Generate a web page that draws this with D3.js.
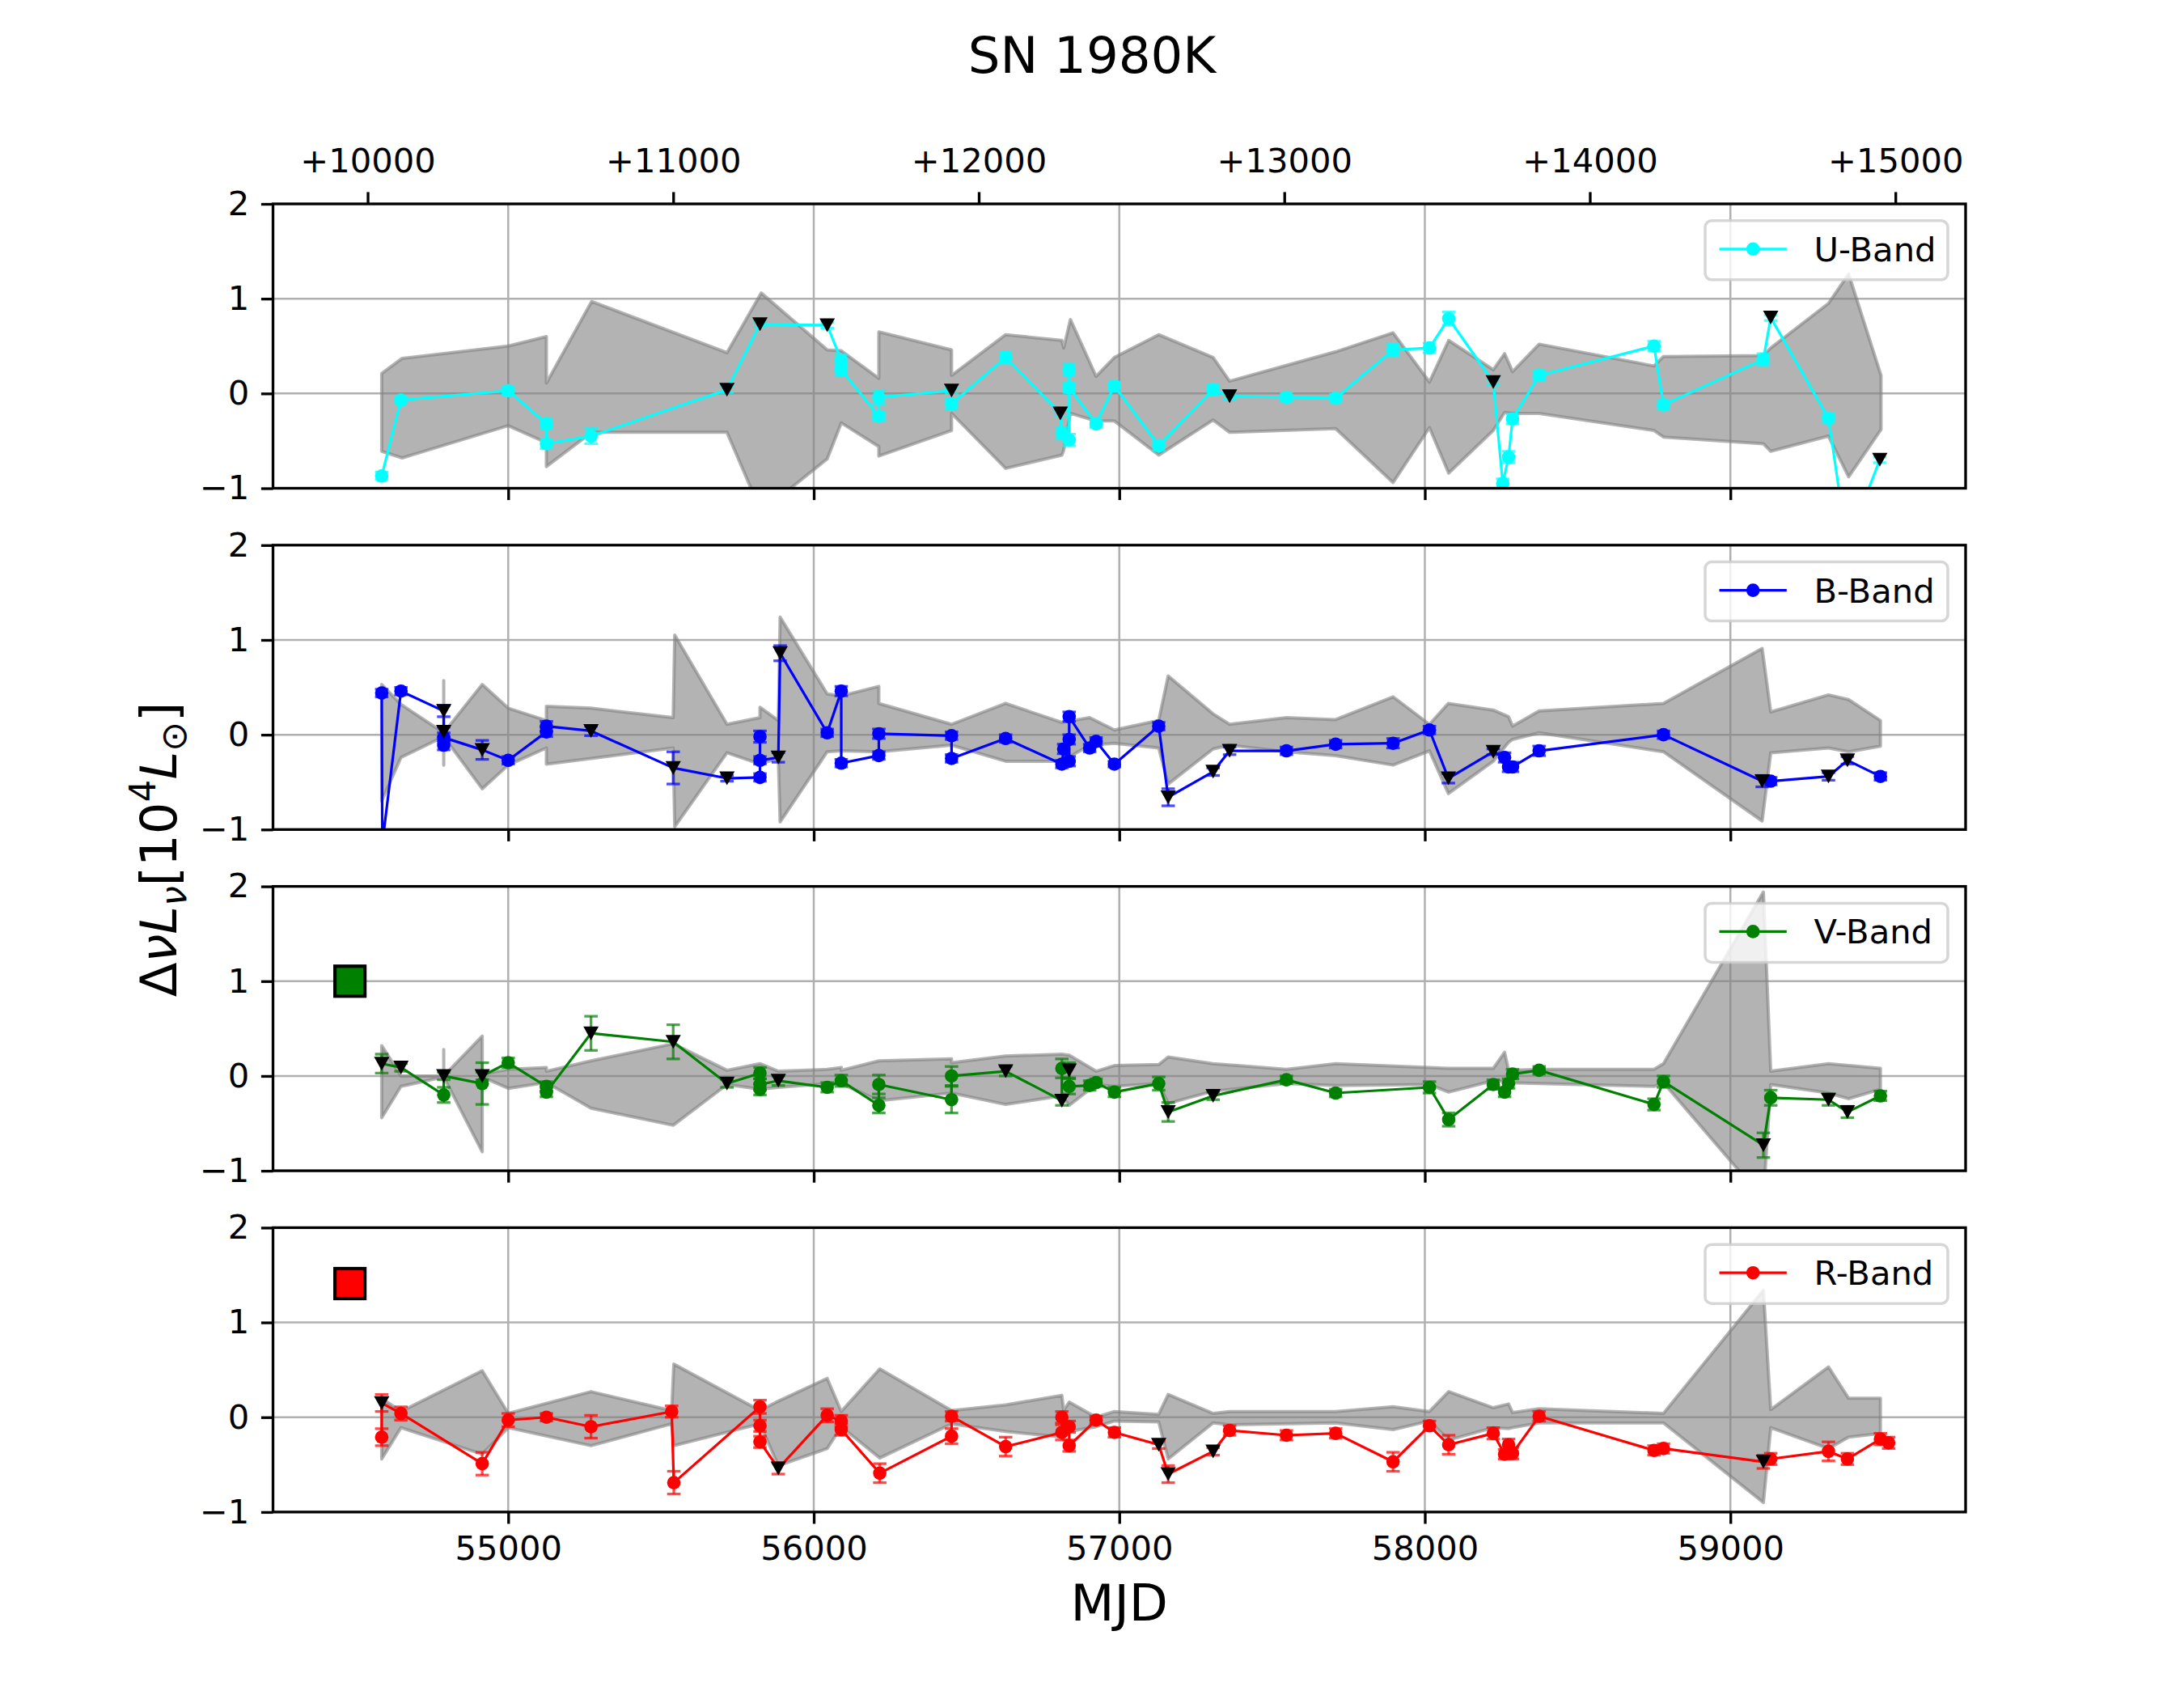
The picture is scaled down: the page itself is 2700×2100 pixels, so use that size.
<!DOCTYPE html>
<html><head><meta charset="utf-8">
<script src="https://cdn.jsdelivr.net/npm/d3@7"></script>
<style>body{margin:0;background:#fff}svg{display:block}</style>
</head><body>
<script>
// ---------------- DATA ----------------
const discoveryMjd = 44540;
const xTicks = [55000, 56000, 57000, 58000, 59000];
const yTicks = [-1, 0, 1, 2];
const topTickOffsets = [10000, 11000, 12000, 13000, 14000, 15000];
const squareMjd = 54482;

// U band
const uMjd = [54586,54649,55000,55125,55125,55271,55716,55824,56044,56090,56090,56213,56213,56451,56451,56628,56807,56812,56836,56836,56836,56924,56984,57129,57307,57361,57547,57708,57896,58015,58078,58224,58255,58274,58287,58374,58750,58781,59108,59132,59321,59382,59489];
const uFlux = [-0.87,-0.07,0.03,-0.32,-0.53,-0.45,0.04,0.73,0.72,0.35,0.25,-0.24,-0.04,0.03,-0.11,0.38,-0.21,-0.42,-0.49,0.25,0.06,-0.32,0.08,-0.55,0.04,-0.03,-0.04,-0.05,0.46,0.48,0.79,0.12,-0.95,-0.67,-0.27,0.19,0.50,-0.12,0.36,0.80,-0.26,-1.6,-0.70];
const uErr = [0.04,0.03,0.04,0.05,0.05,0.08,0.03,0.03,0.03,0.06,0.06,0.04,0.07,0.03,0.05,0.06,0.03,0.06,0.06,0.06,0.05,0.04,0.04,0.05,0.05,0.03,0.04,0.04,0.06,0.05,0.07,0.03,0.05,0.06,0.05,0.05,0.05,0.05,0.06,0.03,0.05,0.05,0.03];
const uLimit = [0,0,0,0,0,0,1,1,1,0,0,0,0,1,0,0,1,0,0,0,0,0,0,0,0,1,0,0,0,0,0,1,0,0,0,0,0,0,0,1,0,0,1];
const uBandMjd = [54586,54653,55000,55125,55125,55273,55716,55828,56044,56090,56213,56213,56451,56451,56628,56812,56818,56840,56924,56984,57129,57307,57361,57708,57896,58015,58078,58224,58261,58287,58374,58750,58781,59108,59132,59321,59387,59493];
const uBandHi = [0.21,0.37,0.50,0.60,0.11,0.97,0.43,1.06,0.46,0.45,0.16,0.65,0.46,0.19,0.62,0.56,0.48,0.78,0.18,0.38,0.62,0.38,0.13,0.44,0.64,0.12,0.56,0.25,0.42,0.23,0.52,0.29,0.39,0.40,0.48,0.95,1.26,0.19];
const uBandLo = [-0.61,-0.68,-0.34,-0.52,-0.77,-0.41,-0.41,-1.25,-0.69,-0.31,-0.56,-0.66,-0.39,-0.21,-0.79,-0.65,-0.60,-0.21,-0.29,-0.29,-0.65,-0.28,-0.41,-0.37,-0.94,-0.36,-0.84,-0.39,-0.20,-0.21,-0.21,-0.39,-0.46,-0.53,-0.61,-0.45,-0.88,-0.38];

// B band
const bMjd = [54586,54588,54649,54789,54789,54789,54789,54915,55000,55125,55125,55271,55540,55716,55824,55824,55824,55884,55890,56044,56090,56090,56213,56213,56451,56451,56628,56812,56818,56836,56836,56836,56903,56924,56984,57129,57160,57307,57361,57547,57708,57896,58015,58077,58224,58261,58274,58287,58374,58781,59104,59132,59321,59383,59491];
const bFlux = [0.44,-1.15,0.46,0.25,0.03,-0.11,-0.03,-0.16,-0.27,0.03,0.09,0.04,-0.35,-0.46,-0.45,-0.02,-0.27,-0.24,0.86,0.02,0.46,-0.30,-0.22,0.01,-0.01,-0.25,-0.04,-0.31,-0.15,-0.28,-0.05,0.19,-0.14,-0.07,-0.31,0.09,-0.66,-0.39,-0.17,-0.17,-0.10,-0.09,0.05,-0.46,-0.18,-0.24,-0.34,-0.34,-0.17,0.00,-0.49,-0.49,-0.44,-0.27,-0.44];
const bErr = [0.04,0.05,0.04,0.06,0.05,0.05,0.05,0.10,0.04,0.05,0.05,0.05,0.17,0.03,0.04,0.06,0.04,0.05,0.08,0.04,0.05,0.04,0.04,0.05,0.04,0.04,0.04,0.04,0.05,0.05,0.05,0.05,0.04,0.04,0.03,0.04,0.09,0.04,0.04,0.04,0.04,0.05,0.04,0.05,0.03,0.05,0.05,0.05,0.05,0.04,0.06,0.04,0.04,0.04,0.04];
const bLimit = [0,0,0,1,1,0,0,1,0,0,0,1,1,1,0,0,0,1,1,0,0,0,0,0,0,0,0,0,0,0,0,0,0,0,0,0,1,1,1,0,0,0,0,1,1,0,0,0,0,0,1,0,1,1,0];
const bBandMjd = [54586,54649,54789,54789,54789,54915,55000,55125,55125,55271,55540,55545,55716,55824,55824,55884,55890,56044,56090,56213,56213,56451,56628,56812,56903,56984,57129,57160,57307,57361,57547,57708,57896,58015,58077,58224,58274,58287,58374,58781,59104,59132,59321,59387,59491];
const bBandHi = [0.53,0.32,0.02,0.57,0.02,0.53,0.28,0.15,0.30,0.28,0.18,1.05,0.11,0.18,0.29,0.15,1.24,0.43,0.41,0.51,0.33,0.11,0.33,0.13,0.18,0.05,0.15,0.62,0.22,0.11,0.18,0.16,0.40,0.11,0.33,0.26,0.19,0.09,0.25,0.33,0.91,0.24,0.42,0.37,0.15];
const bBandLo = [-0.70,-0.24,-0.02,-0.32,-0.02,-0.57,-0.32,-0.14,-0.31,-0.25,-0.14,-0.97,-0.19,-0.31,-0.31,-0.25,-0.92,-0.18,-0.17,-0.18,-0.18,-0.11,-0.28,-0.28,-0.11,-0.09,-0.14,-0.52,-0.15,-0.11,-0.18,-0.22,-0.32,-0.17,-0.62,-0.28,-0.08,-0.05,0.02,-0.18,-0.91,-0.19,-0.14,-0.18,-0.12];

// V band
const vMjd = [54586,54649,54789,54789,54915,54915,55000,55125,55125,55271,55540,55716,55824,55824,55824,55884,56044,56090,56213,56213,56451,56451,56628,56812,56812,56836,56836,56903,56924,56984,57129,57160,57307,57547,57708,58015,58078,58224,58261,58274,58287,58374,58750,58781,59108,59132,59321,59383,59491];
const vFlux = [0.13,0.09,-0.20,0.00,-0.08,0.00,0.14,-0.11,-0.17,0.45,0.36,-0.08,0.03,-0.14,-0.09,-0.05,-0.12,-0.05,-0.31,-0.09,-0.25,0.00,0.05,-0.26,0.08,0.06,-0.11,-0.10,-0.07,-0.17,-0.08,-0.38,-0.21,-0.04,-0.18,-0.12,-0.46,-0.09,-0.17,-0.08,0.02,0.06,-0.30,-0.06,-0.73,-0.23,-0.25,-0.38,-0.21];
const vErr = [0.10,0.04,0.08,0.04,0.22,0.04,0.05,0.05,0.05,0.18,0.18,0.04,0.06,0.06,0.06,0.05,0.05,0.06,0.08,0.10,0.14,0.10,0.05,0.05,0.10,0.08,0.08,0.05,0.04,0.05,0.07,0.10,0.04,0.04,0.04,0.06,0.07,0.05,0.05,0.05,0.05,0.04,0.06,0.06,0.13,0.08,0.06,0.06,0.05];
const vLimit = [1,1,0,1,0,1,0,0,0,1,1,1,0,0,0,1,0,0,0,0,0,0,1,1,0,1,0,0,0,0,0,1,1,0,0,0,0,0,0,0,0,0,0,0,1,0,1,1,0];
const vBandMjd = [54586,54649,54789,54789,54789,54915,54915,55000,55125,55125,55271,55540,55716,55824,55884,56044,56090,56090,56213,56451,56451,56628,56812,56836,56924,56984,57129,57160,57307,57547,57708,58015,58078,58224,58261,58274,58374,58750,58781,59108,59132,59321,59387,59491];
const vBandHi = [0.32,0.00,0.00,0.28,0.00,0.42,0.02,0.07,0.09,0.05,0.16,0.34,0.06,0.13,0.05,0.07,0.09,0.06,0.16,0.18,0.14,0.21,0.23,0.22,0.05,0.11,0.12,0.20,0.13,0.07,0.13,0.09,0.08,0.08,0.25,0.06,0.07,0.07,0.13,1.94,0.05,0.13,0.11,0.08];
const vBandLo = [-0.44,-0.11,-0.01,-0.01,-0.01,-0.80,-0.01,-0.13,-0.07,-0.07,-0.34,-0.52,-0.09,-0.14,-0.12,-0.08,-0.08,-0.08,-0.26,-0.18,-0.18,-0.30,-0.21,-0.31,-0.09,-0.11,-0.08,-0.29,-0.16,-0.08,-0.10,-0.09,-0.17,-0.05,-0.06,-0.07,-0.08,-0.11,-0.07,-1.30,-0.09,-0.18,-0.24,-0.14];
const vSquare = 1.0;

// R band
const rMjd = [54586,54586,54649,54915,55000,55125,55271,55535,55542,55824,55824,55824,55884,56044,56090,56090,56216,56451,56451,56628,56812,56812,56836,56836,56924,56984,57129,57160,57307,57361,57547,57708,57896,58015,58078,58224,58261,58274,58287,58374,58750,58781,59108,59132,59321,59383,59491,59518];
const rFlux = [-0.21,0.15,0.04,-0.49,-0.03,0.00,-0.10,0.06,-0.69,0.11,-0.09,-0.26,-0.54,0.02,-0.04,-0.13,-0.59,-0.20,0.01,-0.31,-0.16,0.00,-0.10,-0.30,-0.03,-0.16,-0.29,-0.60,-0.36,-0.14,-0.19,-0.17,-0.47,-0.09,-0.29,-0.17,-0.39,-0.29,-0.38,0.01,-0.35,-0.33,-0.47,-0.44,-0.36,-0.44,-0.23,-0.27];
const rErr = [0.09,0.09,0.07,0.12,0.07,0.04,0.12,0.06,0.12,0.07,0.06,0.06,0.06,0.07,0.06,0.06,0.10,0.08,0.05,0.10,0.08,0.06,0.06,0.06,0.04,0.05,0.04,0.09,0.04,0.05,0.05,0.05,0.10,0.05,0.10,0.06,0.05,0.06,0.06,0.05,0.05,0.05,0.07,0.06,0.10,0.06,0.06,0.06];
const rLimit = [0,1,0,0,0,0,0,0,0,0,0,0,1,0,0,0,0,0,0,0,0,0,0,0,0,0,1,1,1,0,0,0,0,0,0,0,0,0,0,0,0,0,1,0,0,0,0,0];
const rBandMjd = [54586,54649,54915,55000,55271,55535,55542,55824,55884,56044,56090,56216,56451,56628,56812,56818,56836,56924,56984,57129,57160,57307,57361,57708,57896,58015,58078,58224,58274,58287,58374,58781,59108,59132,59321,59387,59491];
const rBandHi = [0.20,0.06,0.49,0.04,0.27,0.07,0.56,0.07,0.17,0.41,0.06,0.51,0.07,0.13,0.23,0.07,0.16,0.00,0.06,0.03,0.24,0.04,0.06,0.06,0.11,0.06,0.27,0.10,0.14,0.05,0.09,0.04,1.34,0.08,0.53,0.20,0.20];
const rBandLo = [-0.44,-0.11,-0.39,-0.11,-0.30,-0.07,-0.30,-0.07,-0.51,-0.33,-0.10,-0.43,-0.07,-0.15,-0.21,-0.19,-0.15,-0.10,-0.04,-0.05,-0.44,-0.06,-0.08,-0.06,-0.13,-0.04,-0.24,-0.11,-0.12,-0.11,-0.06,-0.06,-0.90,-0.11,-0.33,-0.21,-0.17];
const rSquare = 1.41;

const bandNames = ['U-Band', 'B-Band', 'V-Band', 'R-Band'];
const bandColors = ['#00ffff', '#0000ff', '#008000', '#ff0000'];

// ---------------- LAYOUT ----------------
const W = 2700, H = 2100;
const FONT = 'DejaVu Sans';
const left = 337.5, right = 2430, top0 = 252, panelH = 351.5, gap = 70.3;
const tickLen = 14.6, tickPad = 14.6, tickFs = 41.67;

const svg = d3.select('body').append('svg').attr('width', W).attr('height', H)
  .attr('font-family', FONT);
svg.append('rect').attr('width', W).attr('height', H).attr('fill', '#fff');

const x = d3.scaleLinear().domain([54230.2, 59769.8]).range([left, right]);

const panels = [
  {mjd: uMjd, flux: uFlux, err: uErr, lim: uLimit, bm: uBandMjd, bh: uBandHi, bl: uBandLo, sq: null},
  {mjd: bMjd, flux: bFlux, err: bErr, lim: bLimit, bm: bBandMjd, bh: bBandHi, bl: bBandLo, sq: null},
  {mjd: vMjd, flux: vFlux, err: vErr, lim: vLimit, bm: vBandMjd, bh: vBandHi, bl: vBandLo, sq: vSquare},
  {mjd: rMjd, flux: rFlux, err: rErr, lim: rLimit, bm: rBandMjd, bh: rBandHi, bl: rBandLo, sq: rSquare}
];

const defs = svg.append('defs');
const triPath = 'M-9.5,-8.5L9.5,-8.5L0,8.5Z';

panels.forEach((p, i) => {
  const t = top0 + i * (panelH + gap);
  const y = d3.scaleLinear().domain([-1, 2]).range([t + panelH, t]);
  const color = bandColors[i];
  const cid = 'clip' + i;
  defs.append('clipPath').attr('id', cid).append('rect')
    .attr('x', left).attr('y', t).attr('width', right - left).attr('height', panelH);

  const g = svg.append('g');
  const gc = g.append('g').attr('clip-path', `url(#${cid})`);

  // grid
  gc.selectAll('.gx').data(xTicks).join('line')
    .attr('x1', d => x(d)).attr('x2', d => x(d)).attr('y1', t).attr('y2', t + panelH)
    .attr('stroke', '#b0b0b0').attr('stroke-width', 2.5);
  gc.selectAll('.gy').data(yTicks).join('line')
    .attr('x1', left).attr('x2', right).attr('y1', d => y(d)).attr('y2', d => y(d))
    .attr('stroke', '#b0b0b0').attr('stroke-width', 2.5);

  // shaded band
  const bandData = p.bm.map((m, k) => ({m, lo: p.bl[k], hi: p.bh[k]}));
  const area = d3.area().x(d => x(d.m)).y0(d => y(d.lo)).y1(d => y(d.hi));
  gc.append('path').attr('d', area(bandData))
    .attr('fill', '#808080').attr('fill-opacity', 0.6)
    .attr('stroke', '#808080').attr('stroke-opacity', 0.6).attr('stroke-width', 4)
    .attr('stroke-linejoin', 'round');

  const pts = p.mjd.map((m, k) => ({m, f: p.flux[k], e: p.err[k], lim: p.lim[k]}));

  // error bars
  const eb = gc.append('g').attr('stroke', color).attr('stroke-opacity', 0.7).attr('stroke-width', 3.3);
  pts.forEach(d => {
    const cx = x(d.m);
    eb.append('line').attr('x1', cx).attr('x2', cx).attr('y1', y(d.f - d.e)).attr('y2', y(d.f + d.e));
    eb.append('line').attr('x1', cx - 8.3).attr('x2', cx + 8.3).attr('y1', y(d.f - d.e)).attr('y2', y(d.f - d.e));
    eb.append('line').attr('x1', cx - 8.3).attr('x2', cx + 8.3).attr('y1', y(d.f + d.e)).attr('y2', y(d.f + d.e));
  });

  // connecting line
  const line = d3.line().x(d => x(d.m)).y(d => y(d.f));
  gc.append('path').attr('d', line(pts)).attr('fill', 'none')
    .attr('stroke', color).attr('stroke-width', 3.2).attr('stroke-linejoin', 'round');

  // detections
  gc.selectAll('.pt').data(pts.filter(d => !d.lim)).join('circle')
    .attr('cx', d => x(d.m)).attr('cy', d => y(d.f)).attr('r', 8.3).attr('fill', color);
  // upper limits
  gc.selectAll('.ul').data(pts.filter(d => d.lim)).join('path')
    .attr('d', triPath).attr('transform', d => `translate(${x(d.m)},${y(d.f)})`).attr('fill', '#000');

  // square marker
  if (p.sq !== null) {
    gc.append('rect').attr('x', x(squareMjd) - 18.5).attr('y', y(p.sq) - 18.5)
      .attr('width', 37).attr('height', 37).attr('fill', color)
      .attr('stroke', '#000').attr('stroke-width', 4.2);
  }

  // axes
  const ya = g.append('g').attr('transform', `translate(${left},0)`)
    .call(d3.axisLeft(y).tickValues(yTicks).tickSize(tickLen).tickPadding(tickPad).tickSizeOuter(0)
      .tickFormat(d => d < 0 ? '\u2212' + Math.abs(d) : String(d)));
  const xa = g.append('g').attr('transform', `translate(0,${t + panelH})`)
    .call(d3.axisBottom(x).tickValues(xTicks).tickSize(tickLen).tickPadding(tickPad).tickSizeOuter(0)
      .tickFormat(i === 3 ? d3.format('d') : () => ''));
  [ya, xa].forEach(a => {
    a.select('.domain').remove();
    a.attr('font-size', tickFs).attr('font-family', FONT);
    a.selectAll('line').attr('stroke-width', 3.33).attr('stroke', '#000');
    a.selectAll('text').attr('fill', '#000');
  });
  if (i === 0) {
    const ta = g.append('g').attr('transform', `translate(0,${t})`)
      .call(d3.axisTop(x).tickValues(topTickOffsets.map(o => o + discoveryMjd))
        .tickSize(tickLen).tickPadding(tickPad).tickSizeOuter(0)
        .tickFormat(d => '+' + (d - discoveryMjd)));
    ta.select('.domain').remove();
    ta.attr('font-size', tickFs).attr('font-family', FONT);
    ta.selectAll('line').attr('stroke-width', 3.33).attr('stroke', '#000');
    ta.selectAll('text').attr('fill', '#000').attr('dy', '-0.24em');
  }
  g.append('rect').attr('x', left).attr('y', t).attr('width', right - left).attr('height', panelH)
    .attr('fill', 'none').attr('stroke', '#000').attr('stroke-width', 3.33);

  // legend
  const lx = 2108, lw = 300, lt = t + 20.8, lh = 73;
  const lg = g.append('g');
  lg.append('rect').attr('x', lx).attr('y', lt).attr('width', lw).attr('height', lh)
    .attr('rx', 8).attr('ry', 8).attr('fill', '#fff').attr('fill-opacity', 0.8)
    .attr('stroke', '#cccccc').attr('stroke-opacity', 0.8).attr('stroke-width', 3.5);
  const cy = lt + lh / 2 - 1.5;
  lg.append('line').attr('x1', lx + 17.5).attr('x2', lx + 100.8).attr('y1', cy).attr('y2', cy)
    .attr('stroke', color).attr('stroke-width', 3.2);
  lg.append('circle').attr('cx', lx + 59.2).attr('cy', cy).attr('r', 8.3).attr('fill', color);
  lg.append('text').attr('x', lx + 134.5).attr('y', cy + 15).attr('font-size', tickFs)
    .attr('fill', '#000').text(bandNames[i]);
});

// title
svg.append('text').attr('x', 1350).attr('y', 90).attr('text-anchor', 'middle')
  .attr('font-size', 62.5).attr('fill', '#000').text('SN 1980K');

// x label
svg.append('text').attr('x', (left + right) / 2).attr('y', 2003).attr('text-anchor', 'middle')
  .attr('font-size', 62.5).attr('fill', '#000').text('MJD');

// y label (mathtext-like)
const yl = svg.append('text').attr('transform', 'translate(218,1050) rotate(-90)')
  .attr('text-anchor', 'middle').attr('font-size', 62.5).attr('fill', '#000');
yl.append('tspan').text('\u0394');
yl.append('tspan').attr('font-style', 'italic').text('\u03bd');
yl.append('tspan').attr('font-style', 'italic').text('L');
yl.append('tspan').attr('font-style', 'italic').attr('font-size', 43.75).attr('dy', 12).text('\u03bd');
yl.append('tspan').attr('dy', -12).text('[10');
yl.append('tspan').attr('font-size', 43.75).attr('dy', -26).text('4');
yl.append('tspan').attr('font-style', 'italic').attr('dy', 26).text('L');
yl.append('tspan').attr('font-size', 43.75).attr('dy', 12).text('\u2299');
yl.append('tspan').attr('dy', -12).text(']');
</script>
</body></html>
